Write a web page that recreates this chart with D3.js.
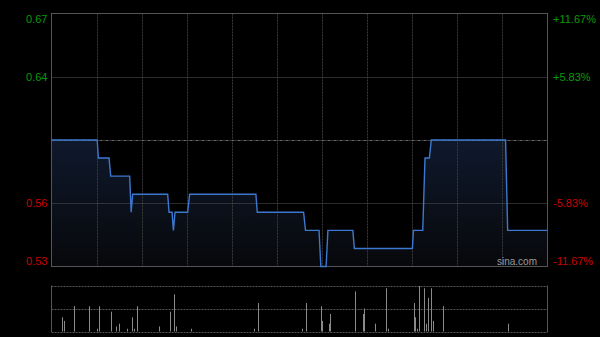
<!DOCTYPE html>
<html><head><meta charset="utf-8">
<script src="https://cdn.jsdelivr.net/npm/d3@7"></script>
<style>html,body{margin:0;padding:0;background:#000;}svg{display:block;}</style>
</head><body>
<svg id="c" width="600" height="337"></svg>
<script>
// minutes since 09:30 (HK session, 330 trading minutes) and price
const priceTimes = [0,30.4,31.2,38.3,39.4,52,53,54,77.3,78.2,80.2,81.1,82.2,90.6,91.9,136,136.9,167.7,169,178,179.2,182.7,183.9,200.5,201.5,240.1,240.8,247,248.5,251.4,252.7,302.1,303.5,330];
const priceValues = [0.60,0.60,0.59,0.59,0.58,0.58,0.56,0.57,0.57,0.56,0.56,0.55,0.56,0.56,0.57,0.57,0.56,0.56,0.55,0.55,0.53,0.53,0.55,0.55,0.54,0.54,0.55,0.55,0.59,0.59,0.60,0.60,0.55,0.55];
const volTimes = [6.8,8,14.8,25,30,31.7,39.7,43,44.7,50.3,53.6,55,57,71.6,78.6,81.5,82.6,92.8,134.4,137.7,166.4,169.3,179.2,180.3,184.3,185.6,202.2,207.3,208,215.5,222.8,224.1,241,242,243,244.3,248,249.2,250.7,252.3,253.6,260.5,303.9];
const volValues = [31,23,55,55,6,55,43,11,17,6,31,6,55,11,43,81,11,6,6,62,6,62,55,23,17,38,87,38,50,17,94,6,62,31,6,99,94,17,73,94,23,55,17];
const priceTicks = [0.67,0.635,0.60,0.565,0.53];
const leftLabels = ["0.67","0.64","","0.56","0.53"];
const rightLabels = ["+11.67%","+5.83%","","-5.83%","-11.67%"];
const basePrice = 0.60;
const timeGrid = [30,60,90,120,150,180,210,240,270,300];

const svg = d3.select("#c");
const L = 51.5, R = 547.5, T = 13.5, B = 266.5;
const VT = 285.5, VB = 331.5;
const x = d3.scaleLinear().domain([0,330]).range([L,R]);
const y = d3.scaleLinear().domain([0.53,0.67]).range([B,T]);
const yv = d3.scaleLinear().domain([0,100]).range([VB,VT]);
const font = "'Liberation Sans', Arial, sans-serif";

const defs = svg.append("defs");
const g = defs.append("linearGradient").attr("id","fill").attr("x1",0).attr("y1",0).attr("x2",0).attr("y2",1)
  .attr("gradientUnits","userSpaceOnUse").attr("x1",0).attr("x2",0).attr("y1",y(0.60)).attr("y2",B);
g.append("stop").attr("offset","0%").attr("stop-color","#0f192c");
g.append("stop").attr("offset","100%").attr("stop-color","#07080b");

const pts = priceTimes.map((t,i)=>[t,priceValues[i]]);

// area
svg.append("path").datum(pts)
  .attr("d", d3.area().x(d=>x(d[0])).y0(B).y1(d=>y(d[1])))
  .attr("fill","url(#fill)");

// vertical grid
svg.append("g").selectAll("line").data(timeGrid).join("line")
  .attr("x1",d=>Math.round(x(d))+0.5).attr("x2",d=>Math.round(x(d))+0.5)
  .attr("y1",T).attr("y2",B)
  .attr("stroke","#3a3a3a").attr("stroke-dasharray","2,1");

// horizontal grid
svg.append("g").selectAll("line").data(priceTicks.filter(v=>v!==0.67 && v!==0.53)).join("line")
  .attr("x1",L).attr("x2",R)
  .attr("y1",d=>Math.round(y(d))+0.5).attr("y2",d=>Math.round(y(d))+0.5)
  .attr("stroke",d=>d===basePrice?"#6a6a6a":"#555")
  .attr("stroke-dasharray",d=>d===basePrice?"3,1,1,1":"1,1");

// frame
svg.append("rect").attr("x",L).attr("y",T).attr("width",R-L).attr("height",B-T)
  .attr("fill","none").attr("stroke","#555");

// line
svg.append("path").datum(pts)
  .attr("d", d3.line().x(d=>x(d[0])).y(d=>y(d[1])))
  .attr("fill","none").attr("stroke","#3c78cf").attr("stroke-width",1.4);

// labels
const lblY = (d,i)=> i===0 ? y(d)+9.5 : (i===priceTicks.length-1 ? y(d)-2 : y(d)+4);
const col = d => d>basePrice ? "#0a9a0a" : "#cc0000";
svg.append("g").selectAll("text").data(priceTicks).join("text")
  .attr("x",47.5).attr("y",lblY).attr("text-anchor","end")
  .attr("font-family",font).attr("font-size",11).attr("fill",col)
  .text((d,i)=>leftLabels[i]);
svg.append("g").selectAll("text").data(priceTicks).join("text")
  .attr("x",553).attr("y",lblY).attr("text-anchor","start")
  .attr("font-family",font).attr("font-size",11).attr("fill",col)
  .text((d,i)=>rightLabels[i]);

// watermark
svg.append("text").attr("x",537).attr("y",264.5).attr("text-anchor","end")
  .attr("font-family",font).attr("font-size",10).attr("fill","#9a9a9a").text("sina.com");

// volume panel
svg.append("g").selectAll("line").data([VT, (VT+VB)/2 - 0.0, VB]).join("line")
  .attr("x1",L).attr("x2",R).attr("y1",d=>Math.round(d)+0.5).attr("y2",d=>Math.round(d)+0.5)
  .attr("stroke","#555").attr("stroke-dasharray","2,1");
svg.append("line").attr("x1",L).attr("x2",L).attr("y1",VT).attr("y2",VB+0.5).attr("stroke","#555");
svg.append("line").attr("x1",R).attr("x2",R).attr("y1",VT).attr("y2",VB+0.5).attr("stroke","#555");

svg.append("g").selectAll("line").data(volTimes.map((t,i)=>[t,volValues[i]])).join("line")
  .attr("x1",d=>Math.round(x(d[0]))+0.5).attr("x2",d=>Math.round(x(d[0]))+0.5)
  .attr("y1",VB).attr("y2",d=>yv(d[1]))
  .attr("stroke","#8a8a8a").attr("stroke-width",1);
</script>
</body></html>
